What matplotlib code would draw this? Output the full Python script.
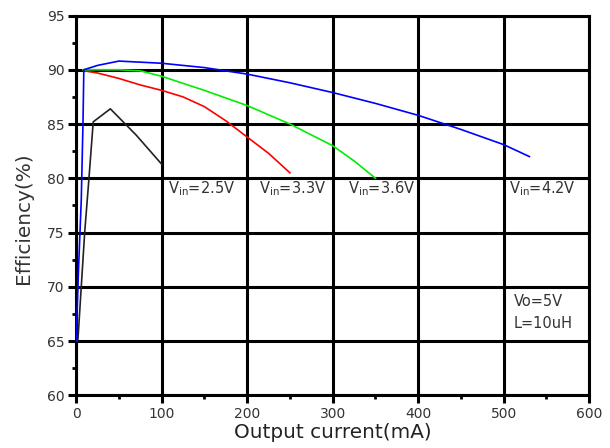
import matplotlib
matplotlib.use("Agg")
import matplotlib.pyplot as plt
from matplotlib.ticker import MultipleLocator

# Data
x_25 = [2, 6, 10, 15, 20, 40, 70, 100]
y_25 = [65.0, 70.0, 75.0, 80.0, 85.2, 86.4, 84.0, 81.3]

x_33 = [10, 25, 50, 75, 100, 125, 150, 175, 200, 225, 250]
y_33 = [89.9, 89.7, 89.2, 88.6, 88.1, 87.5, 86.6, 85.3, 83.8, 82.3, 80.5]

x_36 = [8, 50, 75, 100, 150, 200, 250, 300, 325, 350]
y_36 = [90.0, 90.0, 89.9, 89.4, 88.1, 86.7, 85.0, 83.0, 81.6, 80.0]

x_42 = [0, 3, 6, 8, 9, 25, 50, 100, 150, 200, 250, 300, 350, 400, 450, 500, 530]
y_42 = [65.0, 72.0, 78.0, 85.0, 90.0, 90.4, 90.8, 90.6, 90.2, 89.6, 88.8, 87.9, 86.9, 85.8, 84.5, 83.1, 82.0]

series_labels = [r"V$_{\mathrm{in}}$=2.5V", r"V$_{\mathrm{in}}$=3.3V",
                 r"V$_{\mathrm{in}}$=3.6V", r"V$_{\mathrm{in}}$=4.2V"]
label_x = [107, 214, 317.5, 506.5]
label_y = 78.6

xlabel = "Output current(mA)"
ylabel = "Efficiency(%)"
notes = ["Vo=5V", "L=10uH"]

plt.rcParams['font.family'] = ['DejaVu Sans']
plt.rcParams['mathtext.fontset'] = 'dejavusans'

fig = plt.figure(figsize=(6.1, 4.48), dpi=100)
ax = fig.add_axes([0.1248, 0.1176, 0.966 - 0.1248, 0.9654 - 0.1176])

ax.plot(x_25, y_25, color='#222222', lw=1.2, zorder=3)
ax.plot(x_33, y_33, color='#ff0000', lw=1.2, zorder=3)
ax.plot(x_36, y_36, color='#00ee00', lw=1.2, zorder=3)
ax.plot(x_42, y_42, color='#0000ff', lw=1.2, zorder=3)

ax.set_xlim(0, 600)
ax.set_ylim(60, 95)
ax.xaxis.set_major_locator(MultipleLocator(100))
ax.xaxis.set_minor_locator(MultipleLocator(50))
ax.yaxis.set_major_locator(MultipleLocator(5))
ax.yaxis.set_minor_locator(MultipleLocator(2.5))

ax.set_axisbelow(True)
ax.grid(True, which='major', color='black', lw=2.2)
for s in ax.spines.values():
    s.set_linewidth(2.2)
    s.set_color('black')

ax.tick_params(which='major', direction='out', length=5.5, width=2.2,
               labelsize=10, pad=3, labelcolor='#333333')
ax.tick_params(which='minor', direction='out', length=3, width=2.0)

ax.set_xlabel(xlabel, fontsize=14.4, labelpad=1, color='#222222')
ax.set_ylabel(ylabel, fontsize=14.4, labelpad=10, color='#333333')
ax.yaxis.label.set_y(0.467)

for lx, lab in zip(label_x, series_labels):
    ax.text(lx, label_y, lab, fontsize=10.5, va='baseline', ha='left', color='#333333')

ax.text(512, 68.2, notes[0], fontsize=10.5, va='baseline', ha='left', color='#333333')
ax.text(512, 66.2, notes[1], fontsize=10.5, va='baseline', ha='left', color='#333333')

fig.savefig("out.png", dpi=100)
